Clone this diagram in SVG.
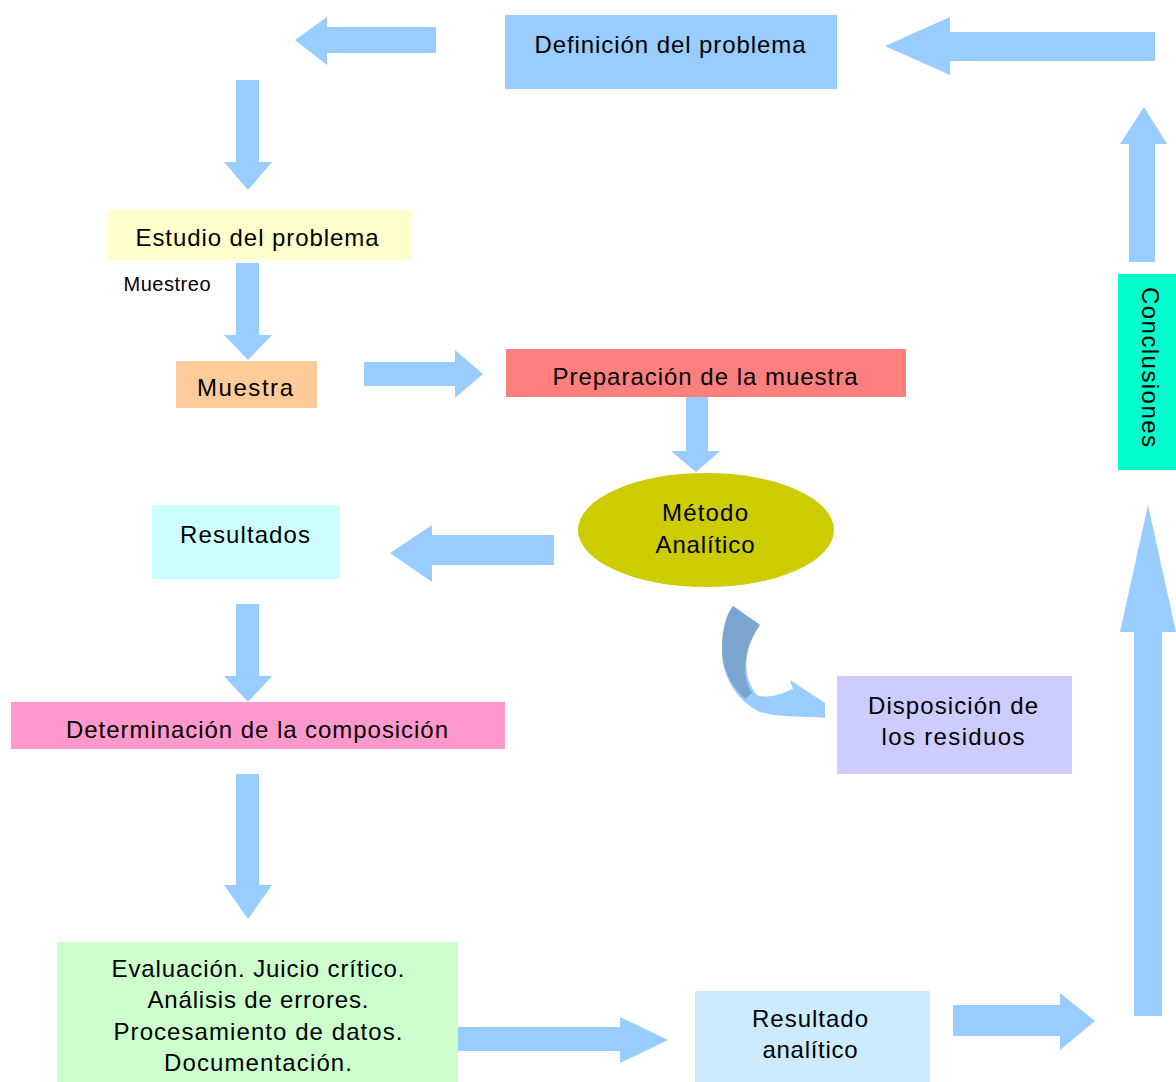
<svg xmlns="http://www.w3.org/2000/svg" width="1176" height="1082" viewBox="0 0 1176 1082">
<style>
.t{font-family:"Liberation Sans",Arial,sans-serif;font-size:24px;fill:#000;text-anchor:middle}
.s{font-size:20px}
.arr{fill:#99CCFF}
</style>
<rect width="1176" height="1082" fill="#fff"/>
<g id="connectors">
<polygon class="arr" points="295,40 327,17 327,27 436,27 436,53 327,53 327,65"/>
<polygon class="arr" points="885,46 950,17 950,32 1155,32 1155,61 950,61 950,75"/>
<polygon class="arr" points="1144,107 1167,144 1155,144 1155,262 1129,262 1129,144 1120,144"/>
<polygon class="arr" points="248,190 272,162 259,162 259,80 236,80 236,162 224,162"/>
<polygon class="arr" points="248,360 272,335 259,335 259,263 236,263 236,335 224,335"/>
<polygon class="arr" points="483,374 455,350 455,362 364,362 364,386 455,386 455,398"/>
<polygon class="arr" points="696,472 720,451 708,451 708,397 686,397 686,451 671,451"/>
<polygon class="arr" points="390,553 432,525 432,535 554,535 554,565 432,565 432,582"/>
<polygon class="arr" points="248,702 272,676 259,676 259,604 236,604 236,676 224,676"/>
<polygon class="arr" points="248,919 272,885 259,885 259,774 236,774 236,885 224,885"/>
<polygon class="arr" points="668,1040 620,1017 620,1027 458,1027 458,1051 620,1051 620,1063"/>
<polygon class="arr" points="1095,1021 1060,993 1060,1005 953,1005 953,1036 1060,1036 1060,1050"/>
<polygon class="arr" points="1148,505 1176,632 1162,632 1162,1016 1134,1016 1134,632 1120,632"/>
<path class="arr" d="M733 606 L760 625 C745 645 740 675 757 695 C770 700 785 692 793 689 L790 680 L825 703 L825 718 C805 716 780 718 760 712 C735 700 722 675 722 650 C722 630 726 615 733 606 Z"/>
<path fill="#7BA5CE" d="M733 606 L760 625 C745 645 740 675 752 693 L745 699 C730 685 722 668 722 650 C722 630 726 615 733 606 Z"/>
</g>
<g id="definicion">
<rect x="505" y="15" width="332" height="74" fill="#99CCFF"/>
<text class="t" x="670" y="53" textLength="271" lengthAdjust="spacing">Definición del problema</text>
</g>
<g id="conclusiones">
<rect x="1118" y="274" width="58" height="196" fill="#00FFCC"/>
<text class="t" transform="translate(1142,367) rotate(90)" x="0" y="0" textLength="160" lengthAdjust="spacing">Conclusiones</text>
</g>
<g id="estudio">
<rect x="107" y="210" width="305" height="50" fill="#FFFFCC"/>
<text class="t" x="257" y="246" textLength="243" lengthAdjust="spacing">Estudio del problema</text>
</g>
<g id="muestreo-label">
<text class="t s" x="167" y="291" textLength="87" lengthAdjust="spacing">Muestreo</text>
</g>
<g id="muestra">
<rect x="176" y="361" width="141" height="47" fill="#FFCC99"/>
<text class="t" x="245" y="396" textLength="96" lengthAdjust="spacing">Muestra</text>
</g>
<g id="preparacion">
<rect x="506" y="349" width="400" height="48" fill="#FF7F7F"/>
<text class="t" x="705" y="385" textLength="305" lengthAdjust="spacing">Preparación de la muestra</text>
</g>
<g id="metodo">
<ellipse cx="706" cy="530" rx="128" ry="57" fill="#CCCC00"/>
<text class="t" x="705" y="521" textLength="86" lengthAdjust="spacing">Método</text>
<text class="t" x="705" y="553" textLength="99" lengthAdjust="spacing">Analítico</text>
</g>
<g id="resultados">
<rect x="152" y="505" width="188" height="74" fill="#CCFFFF"/>
<text class="t" x="245" y="543" textLength="130" lengthAdjust="spacing">Resultados</text>
</g>
<g id="disposicion">
<rect x="837" y="676" width="235" height="98" fill="#CCCCFF"/>
<text class="t" x="953" y="714" textLength="170" lengthAdjust="spacing">Disposición de</text>
<text class="t" x="953" y="745" textLength="143" lengthAdjust="spacing">los residuos</text>
</g>
<g id="determinacion">
<rect x="11" y="702" width="494" height="47" fill="#FF99CC"/>
<text class="t" x="257" y="738" textLength="382" lengthAdjust="spacing">Determinación de la composición</text>
</g>
<g id="evaluacion">
<rect x="57" y="942" width="401" height="140" fill="#CCFFCC"/>
<text class="t" x="258" y="977" textLength="293" lengthAdjust="spacing">Evaluación. Juicio crítico.</text>
<text class="t" x="258" y="1008" textLength="221" lengthAdjust="spacing">Análisis de errores.</text>
<text class="t" x="258" y="1040" textLength="289" lengthAdjust="spacing">Procesamiento de datos.</text>
<text class="t" x="258" y="1071" textLength="188" lengthAdjust="spacing">Documentación.</text>
</g>
<g id="resultado-analitico">
<rect x="695" y="991" width="235" height="91" fill="#CCEBFF"/>
<text class="t" x="810" y="1027" textLength="116" lengthAdjust="spacing">Resultado</text>
<text class="t" x="810" y="1058" textLength="95" lengthAdjust="spacing">analítico</text>
</g>
</svg>
